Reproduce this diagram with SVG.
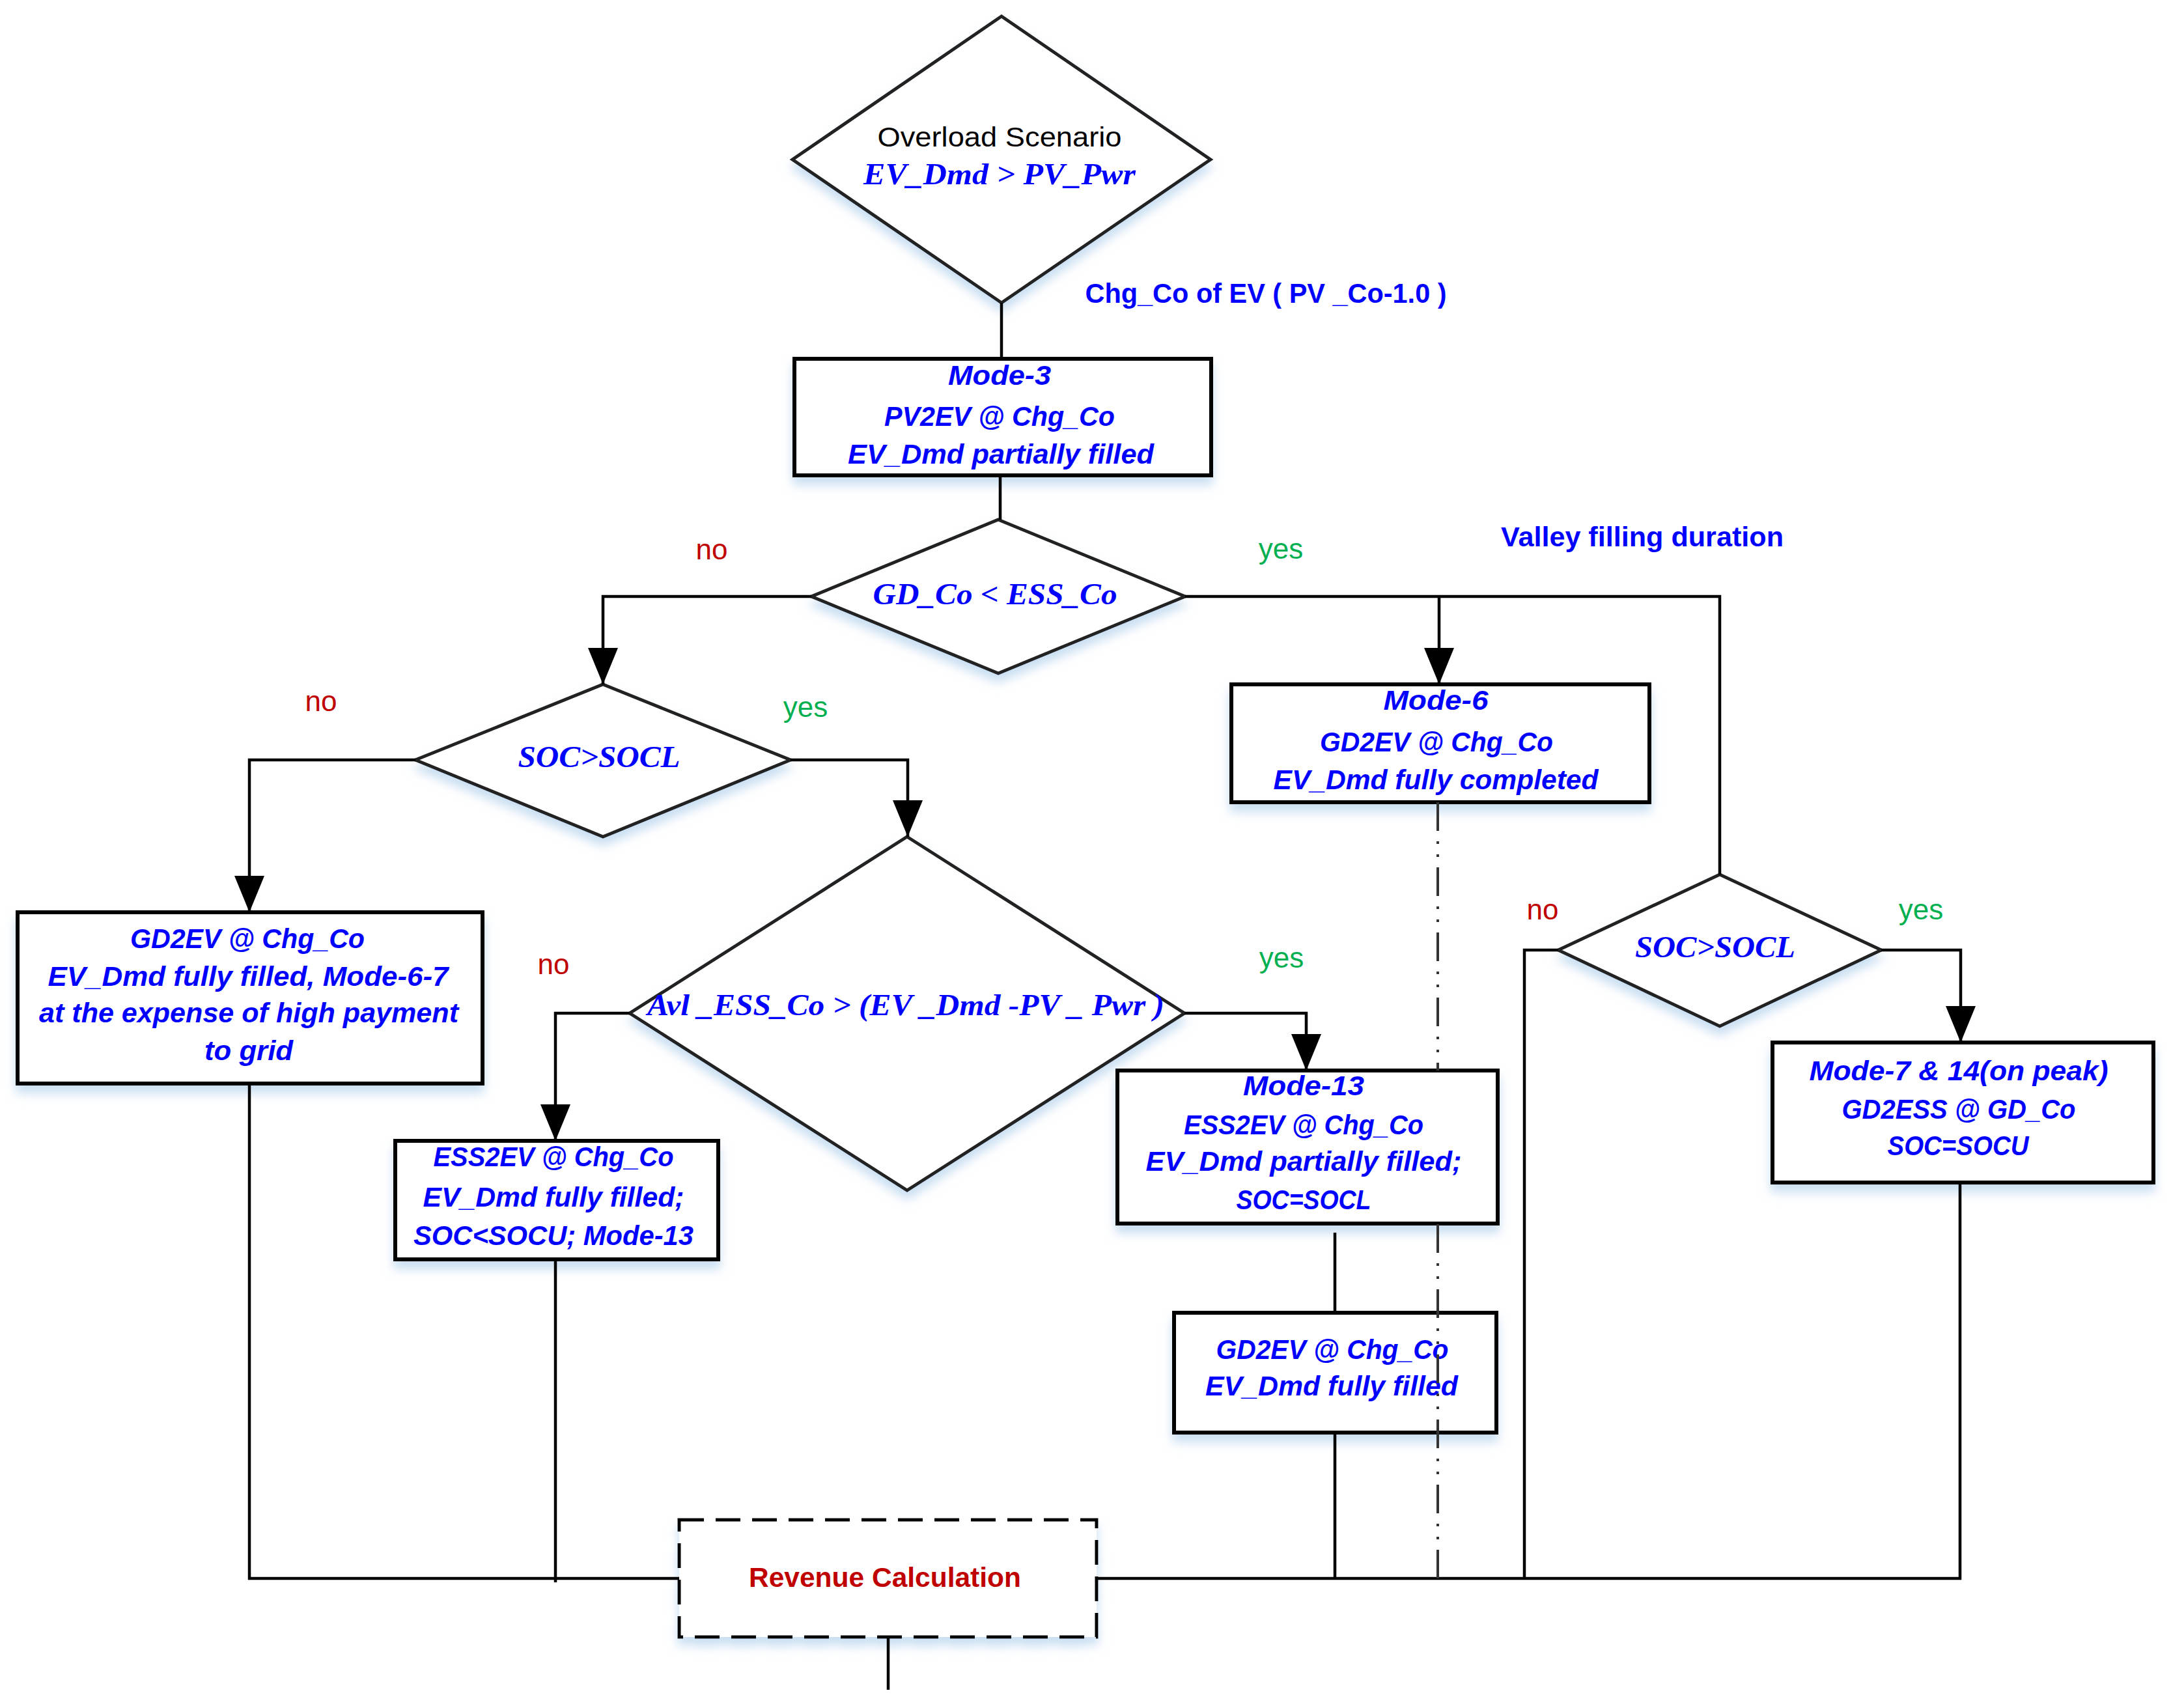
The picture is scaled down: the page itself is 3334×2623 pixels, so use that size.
<svg xmlns="http://www.w3.org/2000/svg" width="3334" height="2623" viewBox="0 0 3334 2623">
<defs>
<filter id="sh" x="-10%" y="-10%" width="120%" height="140%">
<feGaussianBlur in="SourceAlpha" stdDeviation="8"/>
<feOffset dy="12" result="b"/>
<feFlood flood-color="#9DC3E6" flood-opacity="0.55"/>
<feComposite in2="b" operator="in"/>
<feMerge><feMergeNode/><feMergeNode in="SourceGraphic"/></feMerge>
</filter>
<marker id="arr" markerUnits="userSpaceOnUse" markerWidth="56" markerHeight="46" viewBox="0 0 56 46" refX="56" refY="23" orient="auto">
<path d="M0,0 L56,23 L0,46 Z" fill="#000"/>
</marker>
</defs>
<style>
.dia{fill:#fff;stroke:#222;stroke-width:5;filter:url(#sh)}
.box{fill:#fff;stroke:#000;stroke-width:6;filter:url(#sh)}
.dbox{fill:#fff;stroke:#000;stroke-width:5;stroke-dasharray:38 18;filter:url(#sh)}
.bt{font-family:"Liberation Sans",Arial,sans-serif;font-size:42px;font-weight:bold;font-style:italic;fill:#0000FF;text-anchor:middle}
.dt{font-family:"Liberation Serif","Times New Roman",serif;font-size:46px;font-weight:bold;font-style:italic;fill:#0000FF;text-anchor:middle}
.lb{font-family:"Liberation Sans",Arial,sans-serif;font-size:42px;font-weight:bold;fill:#0000FF;text-anchor:middle}
.no{font-family:"Liberation Sans",Arial,sans-serif;font-size:44px;fill:#C00000;text-anchor:middle}
.yes{font-family:"Liberation Sans",Arial,sans-serif;font-size:44px;fill:#00B050;text-anchor:middle}
.blk{font-family:"Liberation Sans",Arial,sans-serif;font-size:42px;fill:#000;text-anchor:middle}
.rev{font-family:"Liberation Sans",Arial,sans-serif;font-size:42px;font-weight:bold;fill:#C00000;text-anchor:middle}
.c{fill:none;stroke:#000;stroke-width:4.5}
.ca{fill:none;stroke:#000;stroke-width:4.5;marker-end:url(#arr)}
.dd{fill:none;stroke:#333;stroke-width:4;stroke-dasharray:44 16 4 16 4 16}
</style>
<rect x="0" y="0" width="3334" height="2623" fill="#fff"/>

<g id="n-overload">
<polygon class="dia" points="1538,25 1859,245 1538,465 1217,245"/>
<text class="blk" x="1535" y="225" textLength="375" lengthAdjust="spacingAndGlyphs">Overload Scenario</text>
<text class="dt" x="1535" y="283" textLength="418" lengthAdjust="spacingAndGlyphs">EV_Dmd &gt; PV_Pwr</text>
</g>

<g id="n-mode3">
<rect class="box" x="1220" y="551" width="640" height="179"/>
<text class="bt" x="1535" y="591" textLength="158" lengthAdjust="spacingAndGlyphs">Mode-3</text>
<text class="bt" x="1535" y="654" textLength="354" lengthAdjust="spacingAndGlyphs">PV2EV @ Chg_Co</text>
<text class="bt" x="1537" y="712" textLength="470" lengthAdjust="spacingAndGlyphs">EV_Dmd partially filled</text>
</g>

<g id="n-gdess">
<polygon class="dia" points="1533,798 1820,916 1533,1034 1246,916"/>
<text class="dt" x="1528" y="928" textLength="375" lengthAdjust="spacingAndGlyphs">GD_Co &lt; ESS_Co</text>
</g>

<g id="n-soc1">
<polygon class="dia" points="926,1051 1214,1167 926,1285 638,1167"/>
<text class="dt" x="920" y="1178" textLength="249" lengthAdjust="spacingAndGlyphs">SOC&gt;SOCL</text>
</g>

<g id="n-mode6">
<rect class="box" x="1891" y="1051" width="642" height="181"/>
<text class="bt" x="2205" y="1090" textLength="161" lengthAdjust="spacingAndGlyphs">Mode-6</text>
<text class="bt" x="2206" y="1154" textLength="358" lengthAdjust="spacingAndGlyphs">GD2EV @ Chg_Co</text>
<text class="bt" x="2205" y="1212" textLength="499" lengthAdjust="spacingAndGlyphs">EV_Dmd fully completed</text>
</g>

<g id="n-gd2ev-high">
<rect class="box" x="27" y="1401" width="714" height="263"/>
<text class="bt" x="380" y="1456" textLength="360" lengthAdjust="spacingAndGlyphs">GD2EV @ Chg_Co</text>
<text class="bt" x="381" y="1514" textLength="615" lengthAdjust="spacingAndGlyphs">EV_Dmd fully filled, Mode-6-7</text>
<text class="bt" x="382" y="1570" textLength="644" lengthAdjust="spacingAndGlyphs">at the expense of high payment</text>
<text class="bt" x="382" y="1628" textLength="136" lengthAdjust="spacingAndGlyphs">to grid</text>
</g>

<g id="n-avl">
<polygon class="dia" points="1393,1285 1819,1556 1393,1828 967,1556"/>
<text class="dt" x="1391" y="1559" textLength="794" lengthAdjust="spacingAndGlyphs">Avl _ESS_Co &gt; (EV _Dmd -PV _ Pwr )</text>
</g>

<g id="n-ess2ev-full">
<rect class="box" x="607" y="1752" width="496" height="182"/>
<text class="bt" x="850" y="1791" textLength="369" lengthAdjust="spacingAndGlyphs">ESS2EV @ Chg_Co</text>
<text class="bt" x="850" y="1853" textLength="401" lengthAdjust="spacingAndGlyphs">EV_Dmd fully filled;</text>
<text class="bt" x="850" y="1912" textLength="430" lengthAdjust="spacingAndGlyphs">SOC&lt;SOCU; Mode-13</text>
</g>

<g id="n-mode13">
<rect class="box" x="1716" y="1644" width="584" height="235"/>
<text class="bt" x="2002" y="1682" textLength="186" lengthAdjust="spacingAndGlyphs">Mode-13</text>
<text class="bt" x="2002" y="1742" textLength="368" lengthAdjust="spacingAndGlyphs">ESS2EV @ Chg_Co</text>
<text class="bt" x="2002" y="1798" textLength="485" lengthAdjust="spacingAndGlyphs">EV_Dmd partially filled;</text>
<text class="bt" x="2002" y="1857" textLength="207" lengthAdjust="spacingAndGlyphs">SOC=SOCL</text>
</g>

<g id="n-soc2">
<polygon class="dia" points="2641,1343 2889,1459 2641,1576 2393,1459"/>
<text class="dt" x="2634" y="1470" textLength="246" lengthAdjust="spacingAndGlyphs">SOC&gt;SOCL</text>
</g>

<g id="n-mode7">
<rect class="box" x="2722" y="1601" width="585" height="215"/>
<text class="bt" x="3008" y="1659" textLength="459" lengthAdjust="spacingAndGlyphs">Mode-7 &amp; 14(on peak)</text>
<text class="bt" x="3008" y="1718" textLength="359" lengthAdjust="spacingAndGlyphs">GD2ESS @ GD_Co</text>
<text class="bt" x="3007" y="1774" textLength="217" lengthAdjust="spacingAndGlyphs">SOC=SOCU</text>
</g>

<g id="n-gd2ev-full">
<rect class="box" x="1803" y="2016" width="495" height="184"/>
<text class="bt" x="2046" y="2087" textLength="357" lengthAdjust="spacingAndGlyphs">GD2EV @ Chg_Co</text>
<text class="bt" x="2045" y="2143" textLength="388" lengthAdjust="spacingAndGlyphs">EV_Dmd fully filled</text>
</g>

<g id="n-revenue">
<rect class="dbox" x="1043" y="2334" width="641" height="180"/>
<text class="rev" x="1359" y="2437" textLength="418" lengthAdjust="spacingAndGlyphs">Revenue Calculation</text>
</g>

<g id="connectors">
<path class="c" d="M1538,465 V551"/>
<path class="c" d="M1536,730 V798"/>
<path class="ca" d="M1246,916 H926 V1051"/>
<path class="c" d="M1820,916 H2641 V1343"/>
<path class="ca" d="M2210,916 V1051"/>
<path class="ca" d="M638,1167 H383 V1401"/>
<path class="ca" d="M1214,1167 H1394 V1285"/>
<path class="ca" d="M967,1556 H853 V1752"/>
<path class="ca" d="M1819,1556 H2006 V1644"/>
<path class="c" d="M2393,1459 H2341 V2424"/>
<path class="ca" d="M2889,1459 H3011 V1601"/>
<path class="c" d="M2050,1893 V2016"/>
<path class="c" d="M2050,2200 V2424"/>
<path class="c" d="M3010,1816 V2424 H1684"/>
<path class="c" d="M383,1664 V2424 H1043"/>
<path class="c" d="M853,1934 V2430"/>
<path class="c" d="M1364,2514 V2595"/>
<path class="dd" d="M2208,1232 V1644"/>
<path class="dd" d="M2208,1880 V2424"/>
</g>

<g id="labels">
<text class="lb" x="1944" y="465" textLength="555" lengthAdjust="spacingAndGlyphs">Chg_Co of EV ( PV _Co-1.0 )</text>
<text class="lb" x="2522" y="839" textLength="434" lengthAdjust="spacingAndGlyphs">Valley filling duration</text>
<text class="no" x="1093" y="859">no</text>
<text class="yes" x="1967" y="858">yes</text>
<text class="no" x="493" y="1092">no</text>
<text class="yes" x="1237" y="1101">yes</text>
<text class="no" x="850" y="1496">no</text>
<text class="yes" x="1968" y="1486">yes</text>
<text class="no" x="2369" y="1412">no</text>
<text class="yes" x="2950" y="1412">yes</text>
</g>
</svg>
